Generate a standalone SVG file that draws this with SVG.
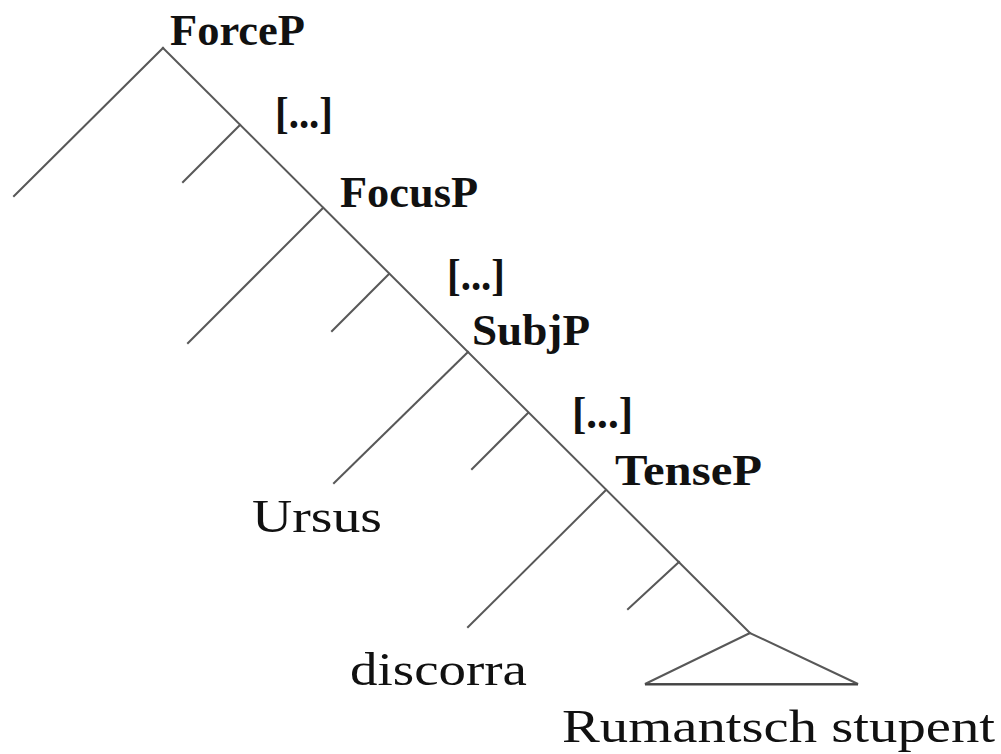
<svg xmlns="http://www.w3.org/2000/svg" width="1001" height="754" viewBox="0 0 1001 754">
<style>
.e{stroke:#585858;stroke-width:2;fill:none;stroke-linecap:square}
.b{font-family:"Liberation Serif",serif;font-weight:bold;font-size:44px;fill:#111}
.n{font-family:"Liberation Serif",serif;font-size:46px;fill:#111}
</style>
<rect width="1001" height="754" fill="#fff"/>
<g id="connectors">
<line class="e" x1="163" y1="48" x2="750" y2="633"/>
<line class="e" x1="163" y1="48" x2="14" y2="196"/>
<line class="e" x1="240" y1="125" x2="183" y2="182"/>
<line class="e" x1="323" y1="208" x2="188" y2="343"/>
<line class="e" x1="389" y1="274" x2="332" y2="331"/>
<line class="e" x1="468" y1="352" x2="334" y2="483"/>
<line class="e" x1="528" y1="413" x2="472" y2="469"/>
<line class="e" x1="606" y1="490" x2="468" y2="627"/>
<line class="e" x1="679" y1="562" x2="628" y2="609"/>
<path class="e" d="M750 633 L645 684 L858 684 Z" stroke-linejoin="miter"/>
<line x1="645" y1="684.5" x2="858" y2="684.5" stroke="#444" stroke-width="2"/>
</g>
<g id="ForceP"><text class="b" x="170" y="45" textLength="135" lengthAdjust="spacingAndGlyphs">ForceP</text></g>
<g id="dots1"><text class="b" x="275" y="128" textLength="58" lengthAdjust="spacingAndGlyphs">[...]</text></g>
<g id="FocusP"><text class="b" x="340" y="207" textLength="138" lengthAdjust="spacingAndGlyphs">FocusP</text></g>
<g id="dots2"><text class="b" x="447" y="290" textLength="58" lengthAdjust="spacingAndGlyphs">[...]</text></g>
<g id="SubjP"><text class="b" x="472" y="345" textLength="118" lengthAdjust="spacingAndGlyphs">SubjP</text></g>
<g id="dots3"><text class="b" x="572" y="428" textLength="61" lengthAdjust="spacingAndGlyphs">[...]</text></g>
<g id="TenseP"><text class="b" x="615" y="485" textLength="147" lengthAdjust="spacingAndGlyphs">TenseP</text></g>
<g id="Ursus"><text class="n" x="252" y="532" textLength="130" lengthAdjust="spacingAndGlyphs">Ursus</text></g>
<g id="discorra"><text class="n" x="350" y="685" textLength="177" lengthAdjust="spacingAndGlyphs">discorra</text></g>
<g id="RumantschStupent"><text class="n" x="562" y="742" textLength="433" lengthAdjust="spacingAndGlyphs">Rumantsch stupent</text></g>
</svg>
